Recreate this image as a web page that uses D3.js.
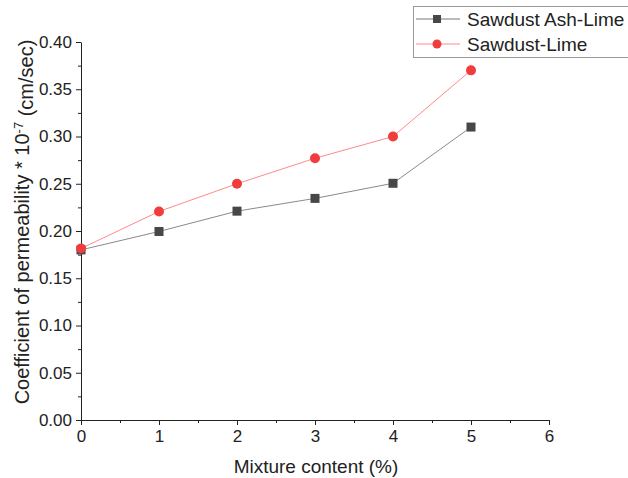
<!DOCTYPE html>
<html>
<head>
<meta charset="utf-8">
<script src="https://cdn.jsdelivr.net/npm/d3@7"></script>
<style>
  body { margin: 0; background: #fff; }
  text { font-family: "Liberation Sans", Arial, sans-serif; fill: #222; }
</style>
</head>
<body>
<svg id="chart" width="628" height="478"></svg>
<script>
// data
var mixture = [0, 1, 2, 3, 4, 5];
var ashLime = [0.180, 0.1995, 0.221, 0.2345, 0.2505, 0.310];
var sawLime = [0.1815, 0.2207, 0.250, 0.277, 0.300, 0.370];
var xTicks = [0, 1, 2, 3, 4, 5, 6];
var yTicks = [0, 0.05, 0.10, 0.15, 0.20, 0.25, 0.30, 0.35, 0.40];
var seriesNames = ["Sawdust Ash-Lime", "Sawdust-Lime"];

var svg = d3.select("#chart");
var margin = {top: 42, right: 79, bottom: 58, left: 81};
var width = 628 - margin.left - margin.right,
    height = 478 - margin.top - margin.bottom;

var x = d3.scaleLinear().domain([0, 6]).range([0, width]);
var y = d3.scaleLinear().domain([0, 0.40]).range([height, 0]);

var g = svg.append("g").attr("transform", "translate(" + margin.left + "," + margin.top + ")");

// minor ticks
var xMinor = d3.range(0.5, 6, 1);
var yMinor = d3.range(0.025, 0.4, 0.05);

var xaxis = g.append("g")
  .attr("transform", "translate(0," + height + ")")
  .call(d3.axisBottom(x).tickValues(xTicks).tickFormat(d3.format("d")).tickSize(5).tickSizeOuter(0));
g.append("g")
  .attr("transform", "translate(0," + height + ")")
  .call(d3.axisBottom(x).tickValues(xMinor).tickFormat("").tickSize(3).tickSizeOuter(0))
  .select(".domain").remove();

var yaxis = g.append("g")
  .call(d3.axisLeft(y).tickValues(yTicks).tickFormat(d3.format(".2f")).tickSize(5).tickSizeOuter(0));
g.append("g")
  .call(d3.axisLeft(y).tickValues(yMinor).tickFormat("").tickSize(3).tickSizeOuter(0))
  .select(".domain").remove();

g.selectAll(".tick text").style("font-size", "17px").style("font-family", "Liberation Sans, Arial, sans-serif").attr("fill", "#222");
xaxis.selectAll(".tick text").attr("dy", "0.85em");
yaxis.selectAll(".tick text").attr("x", -9);
g.selectAll(".domain, .tick line").attr("stroke", "#222");

// axis labels
svg.append("text")
  .attr("x", 316)
  .attr("y", 473)
  .attr("text-anchor", "middle")
  .style("font-size", "19px")
  .text("Mixture content (%)");

var ylab = svg.append("text")
  .attr("transform", "translate(29,222)rotate(-90)")
  .attr("text-anchor", "middle")
  .style("font-size", "20px");
ylab.append("tspan").text("Coefficient of permeability * 10");
ylab.append("tspan").attr("dy", "-0.5em").style("font-size", "13px").text("-7");
ylab.append("tspan").attr("dy", "0.5em").text(" (cm/sec)");

// lines
var line = d3.line()
  .x(function(d, i) { return x(mixture[i]); })
  .y(function(d) { return y(d); });

g.append("path").datum(ashLime)
  .attr("d", line).attr("fill", "none")
  .attr("stroke", "#8a8a8a").attr("stroke-width", 1);
g.append("path").datum(sawLime)
  .attr("d", line).attr("fill", "none")
  .attr("stroke", "#ff8a8a").attr("stroke-width", 1);

g.selectAll("rect.ash").data(ashLime).enter().append("rect")
  .attr("class", "ash")
  .attr("x", function(d, i) { return x(mixture[i]) - 4.5; })
  .attr("y", function(d) { return y(d) - 4.5; })
  .attr("width", 9).attr("height", 9)
  .attr("fill", "#474747");

g.selectAll("circle.saw").data(sawLime).enter().append("circle")
  .attr("class", "saw")
  .attr("cx", function(d, i) { return x(mixture[i]); })
  .attr("cy", function(d) { return y(d); })
  .attr("r", 5)
  .attr("fill", "#f03c3c");

// legend
var leg = svg.append("g").attr("transform", "translate(413,6)");
leg.append("rect")
  .attr("x", 0.5).attr("y", 0.5).attr("width", 230).attr("height", 51)
  .attr("fill", "#fff").attr("stroke", "#999");
var rows = leg.selectAll("g.row").data(seriesNames).enter().append("g")
  .attr("transform", function(d, i) { return "translate(0," + (13 + i * 25) + ")"; });
rows.append("line")
  .attr("x1", 3).attr("x2", 47)
  .attr("stroke", function(d, i) { return i ? "#ff8a8a" : "#777"; });
rows.filter(function(d, i) { return i === 0; }).append("rect")
  .attr("x", 20).attr("y", -4).attr("width", 8).attr("height", 8).attr("fill", "#474747");
rows.filter(function(d, i) { return i === 1; }).append("circle")
  .attr("cx", 24).attr("r", 4.5).attr("fill", "#f03c3c");
rows.append("text")
  .attr("x", 54).attr("dy", "0.35em")
  .style("font-size", "19px")
  .text(function(d) { return d; });
</script>
</body>
</html>
